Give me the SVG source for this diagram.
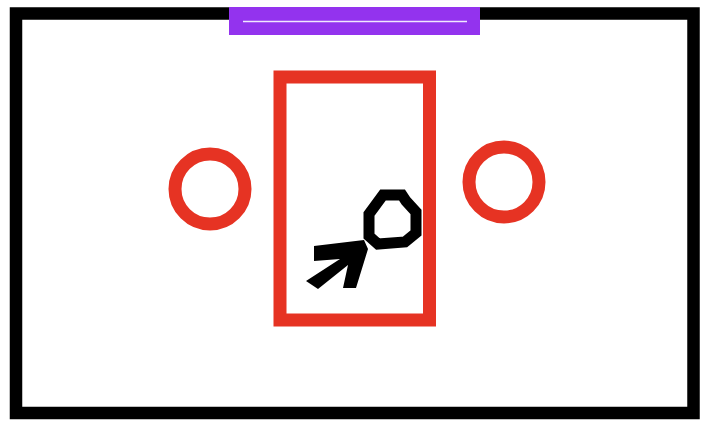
<svg xmlns="http://www.w3.org/2000/svg" width="718" height="426" viewBox="0 0 718 426">
<style>
.red{fill:none;stroke:#e63323;stroke-width:13}
.blk{fill:none;stroke:#000;stroke-width:11;stroke-linejoin:miter}
</style>
<rect width="718" height="426" fill="#fff"/>
<g id="room"><rect x="16" y="13.5" width="677.5" height="399.5" fill="none" stroke="#000" stroke-width="12.5"/></g>
<g id="door"><rect x="229" y="7" width="251" height="28" fill="#9333ee"/><line x1="243" y1="21.5" x2="467" y2="21.5" stroke="#f0e8ff" stroke-width="1.5"/></g>
<g id="table"><rect x="280" y="77" width="149.5" height="243" class="red"/></g>
<g id="seat-left"><circle cx="210" cy="189" r="35" class="red"/></g>
<g id="seat-right"><circle cx="504" cy="182" r="35" class="red"/></g>
<g id="person"><path class="blk" d="M383,195 L402,195 L406,201 L416,212 L416,233 L405,242 L378,244 L369,236 L369,214 Z"/>
<path fill="#000" d="M314,246 L364,240 L368,249 L356,288 L343,288 L348,265 L318,289 L306,281 L340,259 L314,261 Z"/></g>
</svg>
